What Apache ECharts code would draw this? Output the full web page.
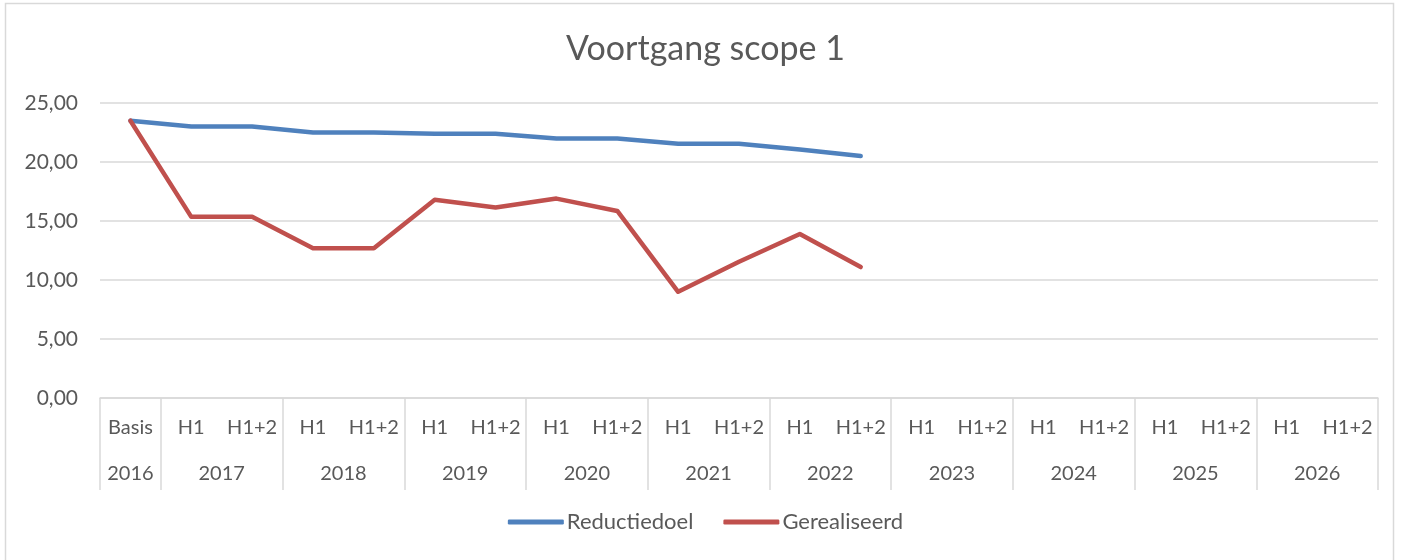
<!DOCTYPE html>
<html>
<head>
<meta charset="utf-8">
<script src="https://cdn.jsdelivr.net/npm/echarts@6/dist/echarts.min.js"></script>
<style>
  html, body { margin: 0; padding: 0; background: #fff; }
  #main { width: 1411px; height: 560px; }
</style>
</head>
<body>
<div id="main"></div>
<script>
// categorie-labels (onderste rij: jaren, bovenste rij: periode)
const periods = ['Basis',
  'H1', 'H1+2', 'H1', 'H1+2', 'H1', 'H1+2', 'H1', 'H1+2', 'H1', 'H1+2',
  'H1', 'H1+2', 'H1', 'H1+2', 'H1', 'H1+2', 'H1', 'H1+2', 'H1', 'H1+2']
const years = ['2016', '2017', '2018', '2019', '2020', '2021', '2022', '2023', '2024', '2025', '2026']
const yearSpans = [1, 2, 2, 2, 2, 2, 2, 2, 2, 2, 2]

const reductiedoel = [23.5, 23.0, 23.0, 22.5, 22.5, 22.4, 22.4, 22.0, 22.0, 21.55, 21.55, 21.05, 20.5,
  null, null, null, null, null, null, null, null]
const gerealiseerd = [23.5, 15.35, 15.35, 12.7, 12.7, 16.8, 16.15, 16.9, 15.85, 9.0, 11.55, 13.9, 11.1,
  null, null, null, null, null, null, null, null]

const yTicks = [0, 5, 10, 15, 20, 25]

// grenzen en middens van de jaargroepen (in categorie-eenheden)
const bounds = [0]
const mids = []
yearSpans.forEach(s => {
  const start = bounds[bounds.length - 1]
  mids.push(start + s / 2)
  bounds.push(start + s)
})

const textColor = '#595959'
const gridColor = '#d9d9d9'
const font = 'Lato, "Open Sans", sans-serif'

const chart = echarts.init(document.getElementById('main'))

const option = {
  animation: false,
  textStyle: { fontFamily: font },
  graphic: [{
    type: 'rect',
    shape: { x: 5.5, y: 3.5, width: 1388, height: 600 },
    style: { fill: 'none', stroke: gridColor, lineWidth: 1.5 }
  }],
  title: {
    text: 'Voortgang scope 1',
    left: 'center',
    top: 27,
    textStyle: { fontFamily: font, fontSize: 34, fontWeight: 'normal', color: textColor }
  },
  legend: {
    bottom: 22,
    left: 'center',
    icon: 'roundRect',
    itemWidth: 56,
    itemHeight: 5,
    itemGap: 30,
    textStyle: { fontFamily: font, fontSize: 22, color: textColor, padding: [0, 0, 0, -2] },
    data: ['Reductiedoel', 'Gerealiseerd']
  },
  grid: { left: 100, right: 33, top: 103, bottom: 162 },
  xAxis: [
    {
      type: 'category',
      data: periods,
      boundaryGap: true,
      axisLine: { lineStyle: { color: gridColor, width: 1.5 } },
      axisTick: { show: false },
      axisLabel: { interval: 0, margin: 20, fontSize: 20, color: textColor, fontFamily: font }
    },
    {
      type: 'value',
      position: 'bottom',
      min: 0,
      max: periods.length,
      axisLine: { show: false },
      splitLine: { show: false },
      axisTick: {
        show: true,
        customValues: bounds,
        length: 92,
        lineStyle: { color: gridColor, width: 1.5 }
      },
      axisLabel: {
        customValues: mids,
        margin: 66,
        fontSize: 20,
        color: textColor,
        fontFamily: font,
        formatter: v => years[mids.indexOf(v)]
      }
    }
  ],
  yAxis: {
    type: 'value',
    min: 0,
    max: 25,
    interval: 5,
    axisLine: { show: false },
    axisTick: { show: false },
    splitLine: { lineStyle: { color: gridColor, width: 1.5 } },
    axisLabel: {
      margin: 22,
      fontSize: 21,
      color: textColor,
      fontFamily: font,
      formatter: v => yTicks.includes(v) ? v.toFixed(2).replace('.', ',') : ''
    }
  },
  series: [
    {
      name: 'Reductiedoel',
      type: 'line',
      xAxisIndex: 0,
      data: reductiedoel,
      showSymbol: false,
      symbol: 'none',
      color: '#4f81bd',
      lineStyle: { width: 4.5, color: '#4f81bd', cap: 'round', join: 'round' }
    },
    {
      name: 'Gerealiseerd',
      type: 'line',
      xAxisIndex: 0,
      data: gerealiseerd,
      showSymbol: false,
      symbol: 'none',
      color: '#c0504d',
      lineStyle: { width: 4.5, color: '#c0504d', cap: 'round', join: 'round' }
    }
  ]
}

chart.setOption(option)
</script>
</body>
</html>
